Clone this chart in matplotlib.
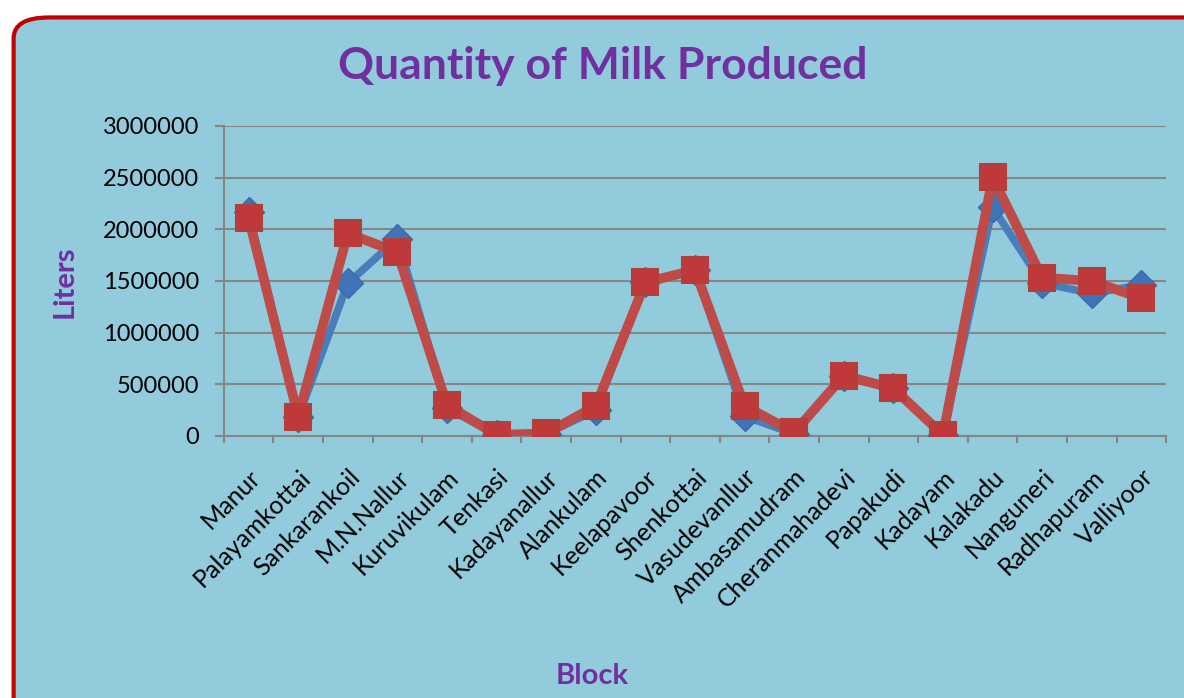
import numpy as np
import matplotlib.pyplot as plt
from matplotlib.patches import FancyBboxPatch

# Data
blocks = ['Manur', 'Palayamkottai', 'Sankarankoil', 'M.N.Nallur', 'Kuruvikulam',
          'Tenkasi', 'Kadayanallur', 'Alankulam', 'Keelapavoor', 'Shenkottai',
          'Vasudevanllur', 'Ambasamudram', 'Cheranmahadevi', 'Papakudi', 'Kadayam',
          'Kalakadu', 'Nanguneri', 'Radhapuram', 'Valliyoor']
series_blue = [2170000, 180000, 1478000, 1910000, 270000,
               10000, 20000, 250000, 1487000, 1606000,
               190000, 20000, 584000, 461000, 10000,
               2213000, 1478000, 1381000, 1461000]
series_red = [2112000, 187000, 1961000, 1778000, 300000,
              10000, 25000, 290000, 1487000, 1606000,
              290000, 35000, 584000, 461000, 10000,
              2503000, 1532000, 1500000, 1332000]
y_ticks = [0, 500000, 1000000, 1500000, 2000000, 2500000, 3000000]

purple = '#7030A0'
bg = '#92CBDC'
grid_col = '#868686'

plt.rcParams['font.family'] = ['Lato', 'DejaVu Sans']

fig = plt.figure(figsize=(11.84, 6.98), dpi=100)
fig.patch.set_facecolor('white')

# rounded chart area with red border
frame = FancyBboxPatch((0.0115, -0.05), 1.05, 1.025,
                       boxstyle='round,pad=0,rounding_size=0.03',
                       transform=fig.transFigure, facecolor=bg,
                       edgecolor='#C00000', linewidth=3, zorder=-1)
fig.patches.append(frame)

ax = fig.add_axes([0.189, 0.3754, 0.796, 0.4441])
ax.set_facecolor('none')

x = np.arange(len(blocks))
ax.plot(x, series_blue, color='#4A7EBB', lw=5.5, marker='D', markersize=15,
        markerfacecolor='#3F74B8', markeredgecolor='#3A6AA8', zorder=3)
ax.plot(x, series_red, color='#BE4B48', lw=7, marker='s', markersize=18.5,
        markerfacecolor='#C0393A', markeredgecolor='#B0403E', markeredgewidth=1.5,
        zorder=4)

ax.set_xlim(-0.5, len(blocks) - 0.5)
ax.set_ylim(0, 3000000)
ax.set_yticks(y_ticks)
ax.set_yticklabels([str(v) for v in y_ticks], fontsize=17)
ax.yaxis.grid(True, color=grid_col, lw=1.5)
ax.set_axisbelow(True)

ax.set_xticks(x)
ax.set_xticklabels(blocks, rotation=45, ha='right', rotation_mode='anchor',
                   fontsize=18)
ax.set_xticks(np.arange(-0.5, len(blocks)), minor=True)
ax.tick_params(axis='x', which='major', length=0, pad=21)
ax.tick_params(axis='x', which='minor', length=5, color=grid_col, width=1.5)
ax.tick_params(axis='y', length=6.5, color=grid_col, width=1.5, pad=11)

for side in ['top', 'right']:
    ax.spines[side].set_visible(False)
for side in ['left', 'bottom']:
    ax.spines[side].set_color(grid_col)
    ax.spines[side].set_linewidth(1.5)

fig.text(0.509, 0.905, 'Quantity of Milk Produced', ha='center', va='center',
         fontsize=32, fontweight='bold', color=purple)
fig.text(0.055, 0.597, 'Liters', ha='center', va='center', rotation=90,
         fontsize=21, fontweight='bold', color=purple)
fig.text(0.5, 0.031, 'Block', ha='center', va='center',
         fontsize=21, fontweight='bold', color=purple)

fig.savefig('out.png', dpi=100)
